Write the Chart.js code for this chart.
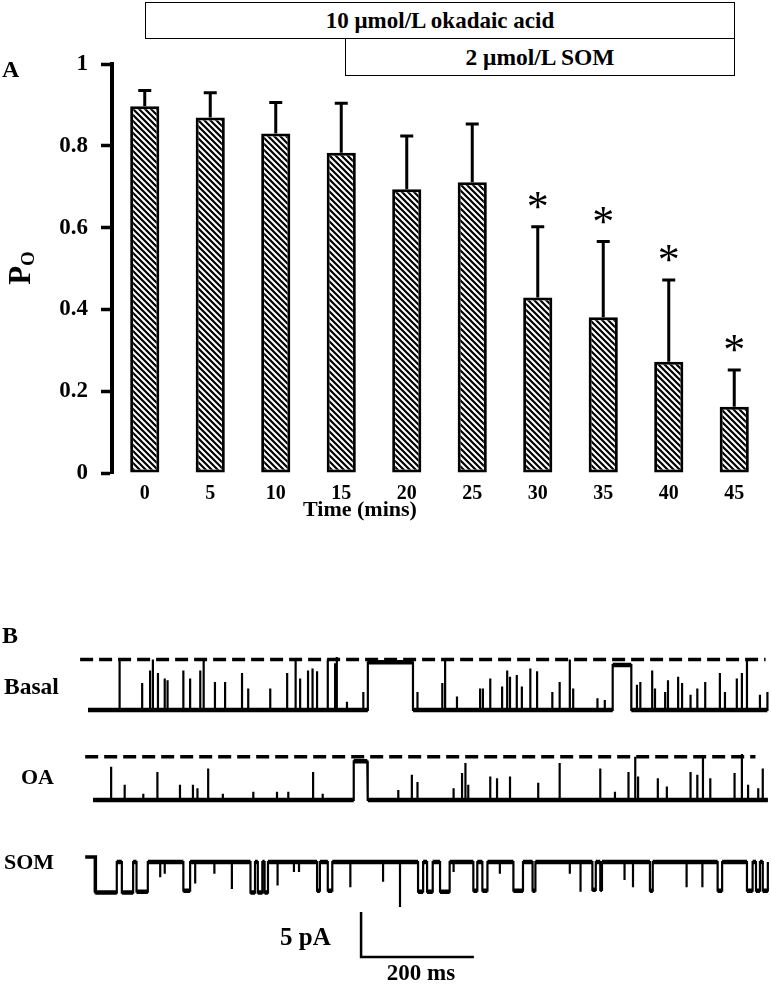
<!DOCTYPE html>
<html>
<head>
<meta charset="utf-8">
<script src="https://cdn.jsdelivr.net/npm/chart.js@4.4.1/dist/chart.umd.min.js"></script>
<style>
body { margin:0; background:#fff; }
#page { position:relative; width:771px; height:985px; overflow:hidden; background:#fff;
  font-family:"Liberation Serif","Times New Roman",serif; font-weight:bold; color:#000; }
.lbl { position:absolute; white-space:nowrap; line-height:1; transform:translateY(-50%); }
.box { position:absolute; border:1.5px solid #000; box-sizing:border-box; display:flex;
  align-items:center; justify-content:center; background:#fff; }
#wrapA { position:absolute; left:0; top:0; }
#wrapB { position:absolute; left:0; top:600px; }
#ytitle { position:absolute; left:20px; top:268px; transform:translate(-50%,-50%) rotate(-90deg);
  font-size:31px; white-space:nowrap; line-height:1; }
#ytitle sub { font-size:19px; vertical-align:-4px; }
</style>
</head>
<body>
<div id="page">
  <div id="wrapA"><canvas id="chartA" width="771" height="540"></canvas></div>
  <div id="wrapB"><canvas id="chartB" width="771" height="385"></canvas></div>

  <div class="box" style="left:145px;top:2px;width:590px;height:37px;font-size:23px;">10 μmol/L okadaic acid</div>
  <div class="box" style="left:345px;top:38px;width:390px;height:38px;font-size:23.5px;">2 μmol/L SOM</div>
  <div class="lbl" style="left:2px;top:69px;font-size:24px;">A</div>
  <div id="ytitle">P<sub>O</sub></div>
  <div class="lbl" style="left:360px;top:509px;font-size:22px;transform:translate(-50%,-50%);">Time (mins)</div>

  <div class="lbl" style="left:2px;top:635px;font-size:24px;">B</div>
  <div class="lbl" style="left:4px;top:687px;font-size:23.5px;">Basal</div>
  <div class="lbl" style="left:21px;top:777px;font-size:22px;">OA</div>
  <div class="lbl" style="left:4px;top:862px;font-size:22px;">SOM</div>
  <div class="lbl" style="left:280px;top:936px;font-size:25px;">5 pA</div>
  <div class="lbl" style="left:421px;top:972px;font-size:23px;transform:translate(-50%,-50%);">200 ms</div>
</div>

<script>
// panel A: open probability over time
const times = ["0", "5", "10", "15", "20", "25", "30", "35", "40", "45"];
const poMean = [0.897, 0.869, 0.830, 0.783, 0.694, 0.711, 0.429, 0.381, 0.272, 0.162];
const poSem = [0.038, 0.061, 0.076, 0.121, 0.130, 0.142, 0.173, 0.185, 0.200, 0.090];
const significant = [false, false, false, false, false, false, true, true, true, true];
const yTicks = [0, 0.2, 0.4, 0.6, 0.8, 1];

// panel B: single channel traces, events as [start ms, end ms, level pA]
const basalEvents = [
  [56,56,5.6],[96,96,3.0],[110,110,4.4],[115,115,5.6],[124,124,4.1],[136,136,3.5],[141,141,3.3],
  [169,169,4.4],[181,181,3.5],[199,199,4.4],[205,205,5.6],[225,225,3.1],[243,243,3.1],
  [273,273,4.1],[284,284,2.4],[323,323,2.4],[353,353,4.1],[368,368,5.6],[376,376,3.5],
  [390,390,4.4],[398,398,4.6],[406,406,4.3],[425,425,5.6],[438,438,5.2],[441,441,5.9],
  [459,459,0.9],[488,488,2.0],[496,576,5.3],[584,584,2.0],[628,628,3.0],[633,633,5.6],
  [654,654,1.5],[695,695,2.4],[700,700,2.4],[713,713,3.5],[734,734,2.6],[743,743,4.4],
  [748,748,3.7],[760,760,3.9],[769,769,2.6],[784,784,4.6],[796,796,4.3],[823,823,2.0],
  [836,836,3.1],[854,854,5.6],[860,860,2.4],[903,903,1.3],[916,916,1.1],[930,963,5.0],
  [973,973,2.8],[979,979,3.1],[1000,1000,4.4],[1005,1005,2.4],[1023,1023,2.0],[1028,1028,3.3],
  [1046,1046,3.7],[1053,1053,3.0],[1068,1068,1.7],[1080,1080,2.4],[1094,1094,3.1],[1120,1120,4.1],
  [1129,1129,2.0],[1150,1150,3.5],[1159,1159,4.1],[1168,1168,5.6],[1191,1191,1.7],[1204,1204,2.0]
];
const oaEvents = [
  [41,41,3.7],[65,65,1.7],[98,98,0.7],[123,123,3.1],[163,163,1.7],[186,186,1.7],[194,194,1.3],
  [213,213,3.5],[239,239,0.7],[293,293,0.9],[335,335,0.9],[355,355,0.9],[399,399,3.1],
  [416,416,0.7],[471,495,4.3],[496,496,1.1],[550,550,1.1],[574,574,2.8],[584,584,2.0],
  [648,648,1.3],[663,663,3.0],[669,669,4.1],[674,674,1.7],[713,713,2.6],[725,725,2.4],
  [748,748,2.6],[798,798,1.9],[836,836,4.1],[908,908,3.5],[934,934,0.9],[958,958,3.1],
  [970,970,4.8],[975,975,2.6],[1010,1010,2.4],[1026,1026,1.5],[1068,1068,3.1],[1080,1080,2.8],
  [1090,1090,4.8],[1103,1103,2.4],[1146,1146,3.0],[1159,1159,5.1],[1170,1170,1.7],[1188,1188,1.3],
  [1196,1196,3.5]
];
const somEvents = [
  [13,51,-3.4],[60,80,-3.4],[86,106,-3.3],[128,128,-1.7],[136,136,-1.3],[169,181,-3.2],
  [190,190,-2.4],[224,224,-1.3],[255,255,-3.0],[288,296,-3.4],[301,309,-3.4],[313,319,-3.4],
  [336,336,-2.6],[365,365,-1.1],[374,374,-1.1],[406,411,-3.2],[425,433,-3.2],[465,465,-2.8],
  [523,523,-2.2],[553,553,-5.0],[585,594,-3.3],[601,611,-3.3],[624,641,-3.3],[648,648,-1.1],
  [683,690,-3.2],[699,708,-3.2],[730,730,-1.3],[754,771,-3.2],[788,793,-3.2],[854,854,-1.3],
  [873,873,-3.3],[894,900,-3.1],[908,911,-3.1],[951,951,-2.0],[966,966,-2.8],[996,1001,-3.2],
  [1061,1061,-2.8],[1089,1089,-2.8],[1116,1124,-3.2],[1168,1178,-3.2],[1184,1191,-3.2],[1196,1205,-3.2]
];
const basalOpenAmp = 5.6;
const oaOpenAmp = 4.8;
const scaleBarMs = 200;
const scaleBarPa = 5;

const serif = '"Liberation Serif", "Times New Roman", serif';

function makeHatch(ctx) {
  const s = 6;
  const c = document.createElement("canvas");
  c.width = s;
  c.height = s;
  const g = c.getContext("2d");
  g.fillStyle = "#fff";
  g.fillRect(0, 0, s, s);
  g.strokeStyle = "#000";
  g.lineWidth = 2.2;
  g.beginPath();
  g.moveTo(-1, -1); g.lineTo(s + 1, s + 1);
  g.moveTo(-1, s - 1); g.lineTo(1, s + 1);
  g.moveTo(s - 1, -1); g.lineTo(s + 1, 1);
  g.stroke();
  return ctx.createPattern(c, "repeat");
}

const errorBars = {
  id: "errorBars",
  afterDatasetsDraw(chart) {
    const { ctx, scales } = chart;
    ctx.save();
    ctx.strokeStyle = "#000";
    ctx.fillStyle = "#000";
    ctx.lineWidth = 3;
    poMean.forEach((m, i) => {
      const px = scales.x.getPixelForValue(i);
      const yTop = scales.y.getPixelForValue(m);
      const yErr = scales.y.getPixelForValue(m + poSem[i]);
      ctx.beginPath();
      ctx.moveTo(px, yTop);
      ctx.lineTo(px, yErr);
      ctx.moveTo(px - 6.5, yErr);
      ctx.lineTo(px + 6.5, yErr);
      ctx.stroke();
      if (significant[i]) {
        ctx.font = "44px " + serif;
        ctx.textAlign = "center";
        ctx.textBaseline = "alphabetic";
        ctx.fillText("*", px, yErr - 6);
      }
    });
    ctx.restore();
  },
};

const ctxA = document.getElementById("chartA").getContext("2d");
new Chart(ctxA, {
  type: "bar",
  data: {
    labels: times,
    datasets: [
      {
        data: poMean,
        backgroundColor: makeHatch(ctxA),
        borderColor: "#000",
        borderWidth: 3,
        borderSkipped: false,
        barPercentage: 0.445,
        categoryPercentage: 1,
      },
    ],
  },
  options: {
    responsive: false,
    animation: false,
    devicePixelRatio: 1,
    layout: { padding: { top: 64, right: 4, left: 0, bottom: 0 } },
    plugins: { legend: { display: false }, tooltip: { enabled: false } },
    scales: {
      x: {
        grid: { display: false, drawTicks: false },
        border: { display: false },
        ticks: { color: "#000", padding: 9, font: { family: serif, size: 20, weight: "bold" } },
        afterFit(scale) {
          scale.height = 67;
        },
      },
      y: {
        min: 0,
        max: 1,
        afterBuildTicks(scale) {
          scale.ticks = yTicks.map((v) => ({ value: v }));
        },
        grid: { drawOnChartArea: false, tickLength: 11, tickWidth: 3.5, tickColor: "#000" },
        border: { color: "#000", width: 4 },
        ticks: {
          color: "#000",
          padding: 13,
          font: { family: serif, size: 23, weight: "bold" },
          callback: (v) => String(v),
        },
        afterFit(scale) {
          scale.width = 112;
        },
      },
    },
  },
  plugins: [errorBars],
});

// panel B
function buildTrace(events, start, end, base) {
  const pts = [{ x: start, y: base }];
  events.forEach(([t0, t1, lv]) => {
    pts.push({ x: t0, y: base }, { x: t0, y: base + lv }, { x: t1, y: base + lv }, { x: t1, y: base });
  });
  pts.push({ x: end, y: base });
  return pts;
}

// thicker band for the resting level and the longer dwell levels
function buildBand(events, start, end, base) {
  const pts = [];
  let cur = start;
  events.forEach(([t0, t1, lv]) => {
    pts.push({ x: cur, y: base }, { x: t0, y: base }, { x: t0, y: null });
    if (t1 > t0) pts.push({ x: t0, y: base + lv }, { x: t1, y: base + lv }, { x: t1, y: null });
    cur = t1;
  });
  pts.push({ x: cur, y: base }, { x: end, y: base });
  return pts;
}

const basalBase = -12.22;
const oaBase = -22.22;
const somBase = -29.11;
const barX = 484;
const barY = -34.67;

const lineStyle = { borderColor: "#000", pointRadius: 0, fill: false, tension: 0 };
const traceStyle = { ...lineStyle, borderWidth: 2.2 };
const bandStyle = { ...lineStyle, borderWidth: 4.5, spanGaps: false };
const dashStyle = { ...lineStyle, borderWidth: 3.5, borderDash: [13, 6] };

new Chart(document.getElementById("chartB"), {
  type: "line",
  data: {
    datasets: [
      { ...traceStyle, data: buildTrace(basalEvents, 0, 1205, basalBase) },
      { ...bandStyle, data: buildBand(basalEvents, 0, 1205, basalBase) },
      { ...dashStyle, data: [{ x: -14, y: basalBase + basalOpenAmp }, { x: 1201, y: basalBase + basalOpenAmp }] },
      { ...traceStyle, data: buildTrace(oaEvents, 9, 1205, oaBase) },
      { ...bandStyle, data: buildBand(oaEvents, 9, 1205, oaBase) },
      { ...dashStyle, data: [{ x: -5, y: oaBase + oaOpenAmp }, { x: 1183, y: oaBase + oaOpenAmp }] },
      { ...traceStyle, data: buildTrace(somEvents, 13, 1205, somBase) },
      { ...bandStyle, data: buildBand(somEvents, 13, 1205, somBase) },
      { ...lineStyle, borderWidth: 3.5, data: [{ x: -5, y: somBase + 0.55 }, { x: 13, y: somBase + 0.55 }, { x: 13, y: somBase - 3.4 }] },
      {
        ...lineStyle,
        borderWidth: 2.5,
        data: [
          { x: barX, y: barY },
          { x: barX, y: barY - scaleBarPa },
          { x: barX + scaleBarMs, y: barY - scaleBarPa },
        ],
      },
    ],
  },
  options: {
    responsive: false,
    animation: false,
    devicePixelRatio: 1,
    layout: { padding: 0 },
    plugins: { legend: { display: false }, tooltip: { enabled: false } },
    scales: {
      x: { type: "linear", min: -156, max: 1210.6, display: false },
      y: { min: -42.78, max: 0, display: false },
    },
  },
});
</script>
</body>
</html>
